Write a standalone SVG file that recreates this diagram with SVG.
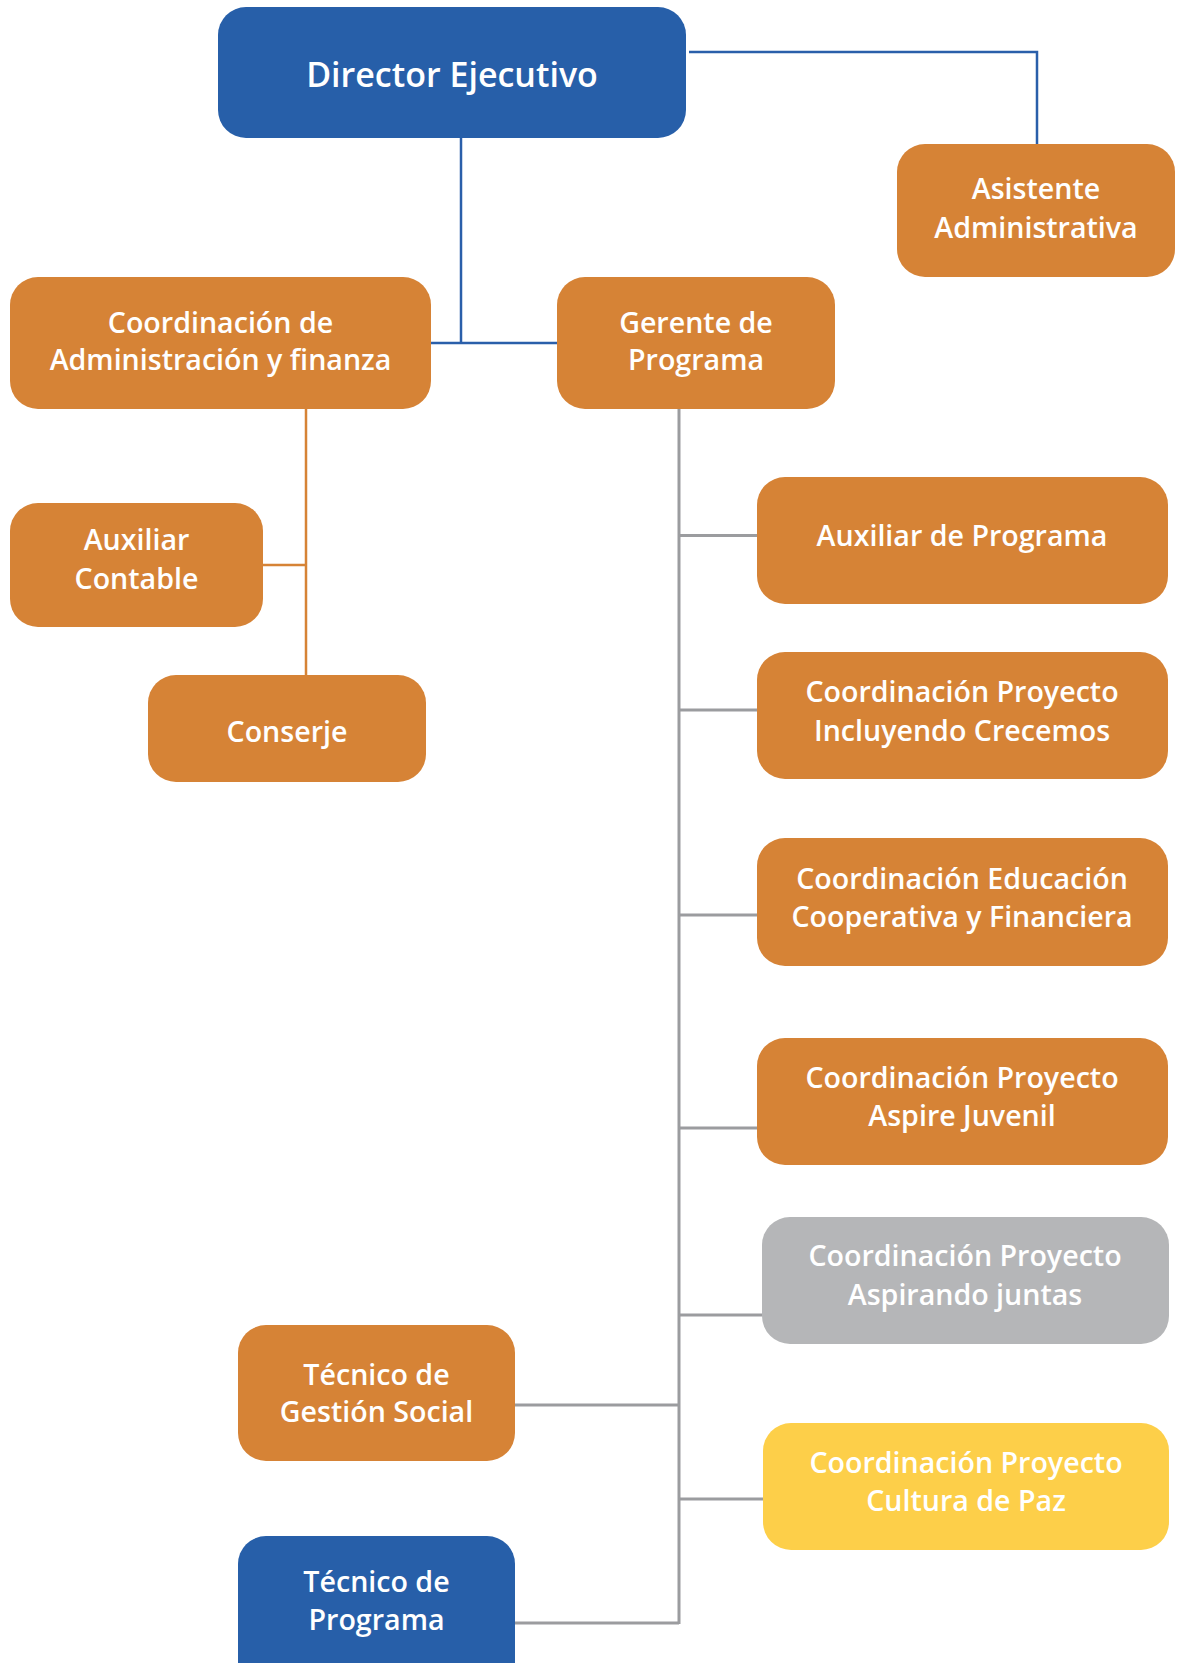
<svg xmlns="http://www.w3.org/2000/svg" width="1178" height="1663" viewBox="0 0 1178 1663">
<style>
.box{stroke:none}
.or{fill:#D68336}
.bl{fill:#275FA9}
.gr{fill:#B5B6B8}
.ye{fill:#FDCF49}
text{font-family:"Open Sans","Liberation Sans",sans-serif;font-weight:600;fill:#FFFFFF;text-anchor:middle;font-size:28.6px}
.big{font-size:34px}
.cb{stroke:#2A5FAA;stroke-width:2.5;fill:none}
.co{stroke:#D68336;stroke-width:2.5;fill:none}
.cg{stroke:#9B9C9F;stroke-width:3;fill:none}
</style>
<rect width="1178" height="1663" fill="#FFFFFF"/>
<g id="connectors">
<polyline class="cb" points="689,52 1037,52 1037,144"/>
<polyline class="cb" points="461,138 461,343"/>
<line class="cb" x1="431" y1="343" x2="557" y2="343"/>
<line class="co" x1="306" y1="409" x2="306" y2="676"/>
<line class="co" x1="263" y1="565" x2="306" y2="565"/>
<line class="cg" x1="679" y1="409" x2="679" y2="1624"/>
<line class="cg" x1="679" y1="535.5" x2="757" y2="535.5"/>
<line class="cg" x1="679" y1="710" x2="757" y2="710"/>
<line class="cg" x1="679" y1="915" x2="757" y2="915"/>
<line class="cg" x1="679" y1="1128" x2="757" y2="1128"/>
<line class="cg" x1="679" y1="1315" x2="762" y2="1315"/>
<line class="cg" x1="515" y1="1405" x2="679" y2="1405"/>
<line class="cg" x1="679" y1="1499" x2="763" y2="1499"/>
<line class="cg" x1="515" y1="1623" x2="679" y2="1623"/>
</g>
<g id="director">
<rect class="box bl" x="218" y="7" width="468" height="131" rx="28"/>
<text class="big" x="452" y="87">Director Ejecutivo</text>
</g>
<g id="asistente">
<rect class="box or" x="897" y="144" width="278" height="133" rx="28"/>
<text x="1036" y="199">Asistente</text>
<text x="1036" y="238">Administrativa</text>
</g>
<g id="coord-admin">
<rect class="box or" x="10" y="277" width="421" height="132" rx="28"/>
<text x="220.5" y="333">Coordinación de</text>
<text x="220.5" y="370">Administración y finanza</text>
</g>
<g id="gerente">
<rect class="box or" x="557" y="277" width="278" height="132" rx="28"/>
<text x="696" y="333">Gerente de</text>
<text x="696" y="370">Programa</text>
</g>
<g id="aux-contable">
<rect class="box or" x="10" y="503" width="253" height="124" rx="28"/>
<text x="136.5" y="550">Auxiliar</text>
<text x="136.5" y="589">Contable</text>
</g>
<g id="conserje">
<rect class="box or" x="148" y="675" width="278" height="107" rx="28"/>
<text x="287" y="742">Conserje</text>
</g>
<g id="aux-programa">
<rect class="box or" x="757" y="477" width="411" height="127" rx="28"/>
<text x="962" y="546">Auxiliar de Programa</text>
</g>
<g id="incluyendo">
<rect class="box or" x="757" y="652" width="411" height="127" rx="28"/>
<text x="962" y="702">Coordinación Proyecto</text>
<text x="962" y="741">Incluyendo Crecemos</text>
</g>
<g id="educacion">
<rect class="box or" x="757" y="838" width="411" height="128" rx="28"/>
<text x="962" y="889">Coordinación Educación</text>
<text x="962" y="927">Cooperativa y Financiera</text>
</g>
<g id="aspire">
<rect class="box or" x="757" y="1038" width="411" height="127" rx="28"/>
<text x="962" y="1088">Coordinación Proyecto</text>
<text x="962" y="1126">Aspire Juvenil</text>
</g>
<g id="aspirando">
<rect class="box gr" x="762" y="1217" width="407" height="127" rx="28"/>
<text x="965" y="1266">Coordinación Proyecto</text>
<text x="965" y="1305">Aspirando juntas</text>
</g>
<g id="tecnico-gestion">
<rect class="box or" x="238" y="1325" width="277" height="136" rx="28"/>
<text x="376.5" y="1385">Técnico de</text>
<text x="376.5" y="1422">Gestión Social</text>
</g>
<g id="cultura-paz">
<rect class="box ye" x="763" y="1423" width="406" height="127" rx="28"/>
<text x="966" y="1473">Coordinación Proyecto</text>
<text x="966" y="1511">Cultura de Paz</text>
</g>
<g id="tecnico-programa">
<rect class="box bl" x="238" y="1536" width="277" height="160" rx="28"/>
<text x="376.5" y="1592">Técnico de</text>
<text x="376.5" y="1630">Programa</text>
</g>
</svg>
